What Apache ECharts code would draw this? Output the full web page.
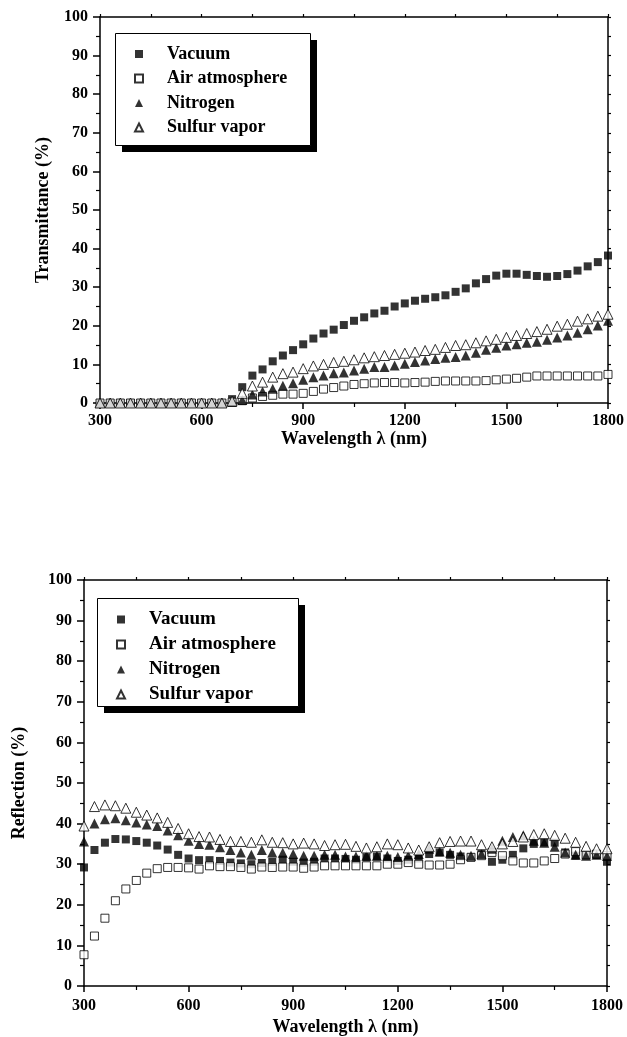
<!DOCTYPE html>
<html>
<head>
<meta charset="utf-8">
<script src="https://cdn.jsdelivr.net/npm/echarts@6/dist/echarts.min.js"></script>
<style>
  html, body { margin: 0; padding: 0; background: #fff; }
  #main { width: 627px; height: 1037px; }
</style>
</head>
<body>
<div id="main"></div>
<script>
var FONT = '"Liberation Serif", "Times New Roman", serif';

var seriesNames = ['Vacuum', 'Air atmosphere', 'Nitrogen', 'Sulfur vapor'];

var wavelength = [300, 330, 360, 390, 420, 450, 480, 510, 540, 570,
  600, 630, 660, 690, 720, 750, 780, 810, 840, 870,
  900, 930, 960, 990, 1020, 1050, 1080, 1110, 1140, 1170,
  1200, 1230, 1260, 1290, 1320, 1350, 1380, 1410, 1440, 1470,
  1500, 1530, 1560, 1590, 1620, 1650, 1680, 1710, 1740, 1770, 1800];

// transmittance (%)
var transVacuum = [0, 0, 0, 0, 0, 0, 0, 0, 0, 0, 0, 0, 0,
  1.0, 4.1, 7.1, 8.7, 10.8, 12.3, 13.7, 15.2, 16.7, 18.0, 19.0, 20.2, 21.3, 22.2,
  23.2, 23.9, 25.0, 25.8, 26.5, 27.0, 27.4, 27.9, 28.8, 29.7, 31.0, 32.1, 33.0,
  33.5, 33.5, 33.2, 32.9, 32.7, 32.9, 33.4, 34.3, 35.4, 36.5, 38.2];
var transAir = [0, 0, 0, 0, 0, 0, 0, 0, 0, 0, 0, 0, 0,
  0.2, 0.6, 1.3, 1.7, 2.0, 2.3, 2.3, 2.5, 3.0, 3.6, 4.0, 4.4, 4.8, 5.0,
  5.2, 5.3, 5.3, 5.2, 5.3, 5.4, 5.6, 5.7, 5.7, 5.7, 5.7, 5.8, 6.0,
  6.2, 6.4, 6.7, 7.0, 7.0, 7.0, 7.0, 7.0, 7.0, 7.0, 7.4];
var transNitrogen = [0, 0, 0, 0, 0, 0, 0, 0, 0, 0, 0, 0, 0,
  0.3, 0.8, 2.2, 3.0, 3.7, 4.5, 5.1, 6.0, 6.7, 7.1, 7.7, 7.9, 8.4, 8.9,
  9.3, 9.3, 9.7, 10.2, 10.6, 11.0, 11.4, 11.7, 11.9, 12.3, 13.0, 13.8, 14.3,
  14.9, 15.2, 15.6, 15.9, 16.4, 17.0, 17.5, 18.2, 19.1, 20.1, 21.3];
var transSulfur = [0, 0, 0, 0, 0, 0, 0, 0, 0, 0, 0, 0, 0,
  0.5, 2.5, 4.4, 5.4, 6.7, 7.6, 8.0, 8.9, 9.6, 10.0, 10.5, 10.8, 11.2, 11.7,
  12.0, 12.3, 12.6, 12.9, 13.2, 13.6, 13.9, 14.4, 14.9, 15.1, 15.6, 16.1, 16.5,
  17.0, 17.5, 18.0, 18.5, 19.1, 19.9, 20.4, 21.2, 21.8, 22.5, 23.0];

// reflection (%)
var reflVacuum = [29.2, 33.5, 35.3, 36.2, 36.1, 35.7, 35.3, 34.6, 33.6, 32.3,
  31.4, 31.0, 31.0, 30.8, 30.4, 30.2, 30.0, 30.3, 30.6, 31.1,
  30.6, 30.4, 30.6, 31.4, 31.4, 31.3, 31.1, 31.7, 31.9, 31.4,
  30.8, 31.1, 31.4, 32.5, 32.9, 32.3, 31.9, 31.7, 32.5, 30.6,
  31.1, 32.3, 33.9, 35.0, 35.4, 35.3, 32.9, 32.1, 32.3, 32.3, 30.6];
var reflAir = [7.7, 12.3, 16.7, 21.0, 23.9, 26.0, 27.8, 28.9, 29.2, 29.2,
  29.1, 28.8, 29.6, 29.4, 29.4, 29.2, 28.8, 29.3, 29.2, 29.3,
  29.3, 29.0, 29.3, 29.6, 29.6, 29.6, 29.6, 29.6, 29.6, 30.0,
  30.0, 30.4, 30.0, 29.8, 29.8, 30.0, 31.1, 31.7, 32.1, 32.9,
  32.1, 30.8, 30.3, 30.3, 30.8, 31.4, 32.5, 33.1, 32.3, 32.5, 32.1];
var reflNitrogen = [35.6, 40.0, 41.1, 41.3, 40.8, 40.3, 39.8, 39.4, 38.3, 37.1,
  35.8, 35.0, 34.8, 34.2, 33.5, 32.9, 32.3, 33.5, 32.9, 32.8,
  32.5, 32.1, 32.1, 32.3, 32.3, 31.9, 31.9, 32.1, 32.1, 32.1,
  31.8, 32.1, 32.5, 33.8, 33.1, 32.8, 32.3, 32.1, 32.5, 33.8,
  35.8, 36.7, 37.1, 35.8, 35.3, 34.3, 32.9, 32.3, 32.1, 32.3, 32.0];
var reflSulfur = [39.4, 44.2, 44.6, 44.4, 43.8, 42.8, 42.1, 41.4, 40.3, 38.8,
  37.5, 36.8, 36.7, 36.1, 35.6, 35.6, 35.4, 36.0, 35.4, 35.3,
  35.0, 35.2, 35.0, 34.6, 34.8, 34.9, 34.4, 34.0, 34.3, 35.0,
  34.8, 34.0, 33.5, 34.3, 35.3, 35.6, 35.7, 35.7, 34.8, 34.3,
  35.0, 35.6, 36.7, 37.3, 37.5, 37.1, 36.4, 35.4, 34.4, 33.8, 33.8];

function pairs(ys) {
  var out = [];
  for (var i = 0; i < wavelength.length; i++) out.push([wavelength[i], ys[i]]);
  return out;
}

var black = '#000';

function txt(size) {
  return { fontFamily: FONT, fontWeight: 'bold', fontSize: size, color: black };
}

function xBottom(grid, nameGap, margin) {
  return {
    type: 'value', gridIndex: grid, position: 'bottom',
    min: 300, max: 1800, interval: 300,
    name: 'Wavelength λ (nm)', nameLocation: 'middle', nameGap: nameGap,
    nameTextStyle: txt(18),
    axisLine: { onZero: false, lineStyle: { color: black, width: 1.5 } },
    axisTick: { length: 6, lineStyle: { color: black, width: 1.5 } },
    minorTick: { show: true, splitNumber: 2, length: 4, lineStyle: { color: black, width: 1.2 } },
    axisLabel: Object.assign(txt(16), { margin: margin, formatter: function (v) { return String(v); } }),
    splitLine: { show: false }
  };
}

function xTop(grid) {
  return {
    type: 'value', gridIndex: grid, position: 'top',
    min: 300, max: 1800, interval: 150,
    axisLine: { onZero: false, lineStyle: { color: black, width: 1.5 } },
    axisTick: { length: 3, lineStyle: { color: black, width: 1.2 } },
    axisLabel: { show: false },
    splitLine: { show: false }
  };
}

function yLeft(grid, name, nameGap) {
  return {
    type: 'value', gridIndex: grid, position: 'left',
    min: 0, max: 100, interval: 10,
    name: name, nameLocation: 'middle', nameGap: nameGap,
    nameTextStyle: txt(18),
    axisLine: { show: true, onZero: false, lineStyle: { color: black, width: 1.5 } },
    axisTick: { show: true, length: 7, lineStyle: { color: black, width: 1.5 } },
    minorTick: { show: true, splitNumber: 2, length: 4, lineStyle: { color: black, width: 1.2 } },
    axisLabel: Object.assign(txt(16), { margin: 12 }),
    splitLine: { show: false }
  };
}

function yRight(grid) {
  return {
    type: 'value', gridIndex: grid, position: 'right',
    min: 0, max: 100, interval: 5,
    axisLine: { show: true, onZero: false, lineStyle: { color: black, width: 1.5 } },
    axisTick: { show: true, length: 3, lineStyle: { color: black, width: 1.2 } },
    axisLabel: { show: false },
    splitLine: { show: false }
  };
}

function legendItems(left, top, size, gap) {
  return {
    left: left, top: top, orient: 'vertical', z: 10,
    selectedMode: false,
    data: seriesNames,
    padding: [11, 18, 7, 19],
    itemGap: gap, itemWidth: 8, itemHeight: 8,
    textStyle: Object.assign(txt(size), { padding: [0, 0, 0, 19], lineHeight: size + 2 })
  };
}

// framed box with a solid drop shadow, drawn behind each legend
function legendFrame(left, top, w, h) {
  return [
    { type: 'rect', left: left + 7, top: top + 7, z: 5, shape: { width: w, height: h }, style: { fill: black } },
    { type: 'rect', left: left, top: top, z: 6, shape: { width: w, height: h }, style: { fill: '#fff', stroke: black, lineWidth: 1 } }
  ];
}

function scatterSet(axisIdx, vac, air, nit, sul) {
  var base = { type: 'scatter', xAxisIndex: axisIdx, yAxisIndex: axisIdx, clip: false, emphasis: { disabled: true } };
  return [
    Object.assign({ name: seriesNames[0], symbol: 'rect', symbolSize: 8, itemStyle: { color: black }, data: pairs(vac) }, base),
    Object.assign({ name: seriesNames[1], symbol: 'rect', symbolSize: 8, itemStyle: { color: '#fff', borderColor: black, borderWidth: 1 }, data: pairs(air) }, base),
    Object.assign({ name: seriesNames[2], symbol: 'triangle', symbolSize: 10, itemStyle: { color: black }, data: pairs(nit) }, base),
    Object.assign({ name: seriesNames[3], symbol: 'triangle', symbolSize: 10, itemStyle: { color: '#fff', borderColor: black, borderWidth: 1 }, data: pairs(sul) }, base)
  ];
}

var myChart = echarts.init(document.getElementById('main'), null, { renderer: 'canvas' });
var option = {
  animation: false,
  backgroundColor: '#fff',
  grid: [
    { left: 100, top: 17, width: 509, height: 386 },
    { left: 84, top: 580, width: 523, height: 410 }
  ],
  graphic: legendFrame(115, 33, 195, 112).concat(legendFrame(97, 598, 201, 108)),
  legend: [
    legendItems(115, 33, 18, 4.5),
    legendItems(97, 598, 19, 4)
  ],
  xAxis: [xBottom(0, 26, 10), xTop(0), xBottom(1, 32, 12), xTop(1)],
  yAxis: [yLeft(0, 'Transmittance (%)', 48), yRight(0), yLeft(1, 'Reflection (%)', 56), yRight(1)],
  series: scatterSet(0, transVacuum, transAir, transNitrogen, transSulfur)
    .concat(scatterSet(2, reflVacuum, reflAir, reflNitrogen, reflSulfur))
};
myChart.setOption(option);
</script>
</body>
</html>
